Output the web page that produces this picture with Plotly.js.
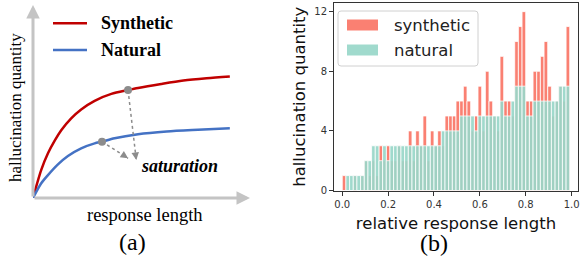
<!DOCTYPE html>
<html><head><meta charset="utf-8">
<script src="https://cdn.plot.ly/plotly-3.0.1.min.js"></script>
<style>html,body{margin:0;padding:0;background:#fff}#chart{width:582px;height:256px}</style>
</head><body><div id="chart"></div>
<script>
// ---------- panel (b) data ----------
const seriesNames = ['synthetic', 'natural'];
const relLength = [0,0.016,0.032,0.048,0.064,0.08,0.096,0.112,0.128,0.144,0.16,0.176,0.192,0.208,0.224,0.24,0.256,0.272,0.288,0.304,0.32,0.336,0.352,0.368,0.384,0.4,0.416,0.432,0.448,0.464,0.48,0.496,0.512,0.528,0.544,0.56,0.576,0.592,0.608,0.624,0.64,0.656,0.672,0.688,0.704,0.72,0.736,0.752,0.768,0.784,0.8,0.816,0.832,0.848,0.864,0.88,0.896,0.912,0.928,0.944,0.96,0.976];
const synthetic = [1,0,0,1,0,1,2,1,2,1,3,2,3,2,2,3,2,2,4,2,4,3,5,2,4,3,4,3,5,5,5,6,6,7,6,4,5,7,4,8,6,5,4,9,6,6,5,10,11,12,6,6,8,8,9,10,7,5,6,7,6,11];
const natural   = [0,1,1,1,1,1,2,2,3,3,2,3,2,3,3,3,3,3,3,3,3,3,3,3,3,3,3,4,4,4,4,4,5,5,5,5,4,5,5,5,5,5,5,6,5,5,6,7,7,7,5,5,6,6,6,6,6,6,6,7,7,7];
const yTicks = [0,4,8,12];
const xTicks = [0,0.2,0.4,0.6,0.8,1.0];
const xTickText = ['0.0','0.2','0.4','0.6','0.8','1.0'];

// ---------- panel (a) schematic data (unitless) ----------
const curveNames = ['Synthetic', 'Natural'];
const synthCurveX = [0,0.038,0.069,0.100,0.131,0.176,0.222,0.284,0.361,0.438,0.484,0.591,0.693,0.800,0.907];
const synthCurveY = [0,0.147,0.234,0.300,0.356,0.417,0.464,0.509,0.545,0.565,0.576,0.597,0.615,0.627,0.636];
const natCurveX = [0,0.038,0.069,0.115,0.161,0.222,0.284,0.318,0.376,0.484,0.616,0.760,0.907];
const natCurveY = [0,0.077,0.120,0.176,0.220,0.260,0.286,0.295,0.313,0.334,0.348,0.357,0.365];
const satPointsX = [0.438, 0.318];
const satPointsY = [0.565, 0.295];
const satArrowEndX = [0.476, 0.438];
const satArrowEndY = [0.199, 0.208];

const RED = '#FA8072', TEAL = 'rgb(152,215,201)', TEAL_OP = 0.92;
const P = (px) => px/582, Q = (py) => 1 - py/256;

const traces = [
  {type:'bar', x:relLength, y:synthetic, name:seriesNames[0], width:0.016, offset:0,
   marker:{color:RED, line:{color:'white', width:0.8}}, xaxis:'x', yaxis:'y', hoverinfo:'skip'},
  {type:'bar', x:relLength, y:natural, name:seriesNames[1], width:0.016, offset:0,
   marker:{color:TEAL, opacity:TEAL_OP, line:{color:'white', width:0.8}}, xaxis:'x', yaxis:'y', hoverinfo:'skip'},
  {type:'scatter', mode:'lines', x:synthCurveX, y:synthCurveY, name:curveNames[0], line:{color:'#C00000', width:2.5, shape:'spline', smoothing:0.8}, xaxis:'x2', yaxis:'y2', hoverinfo:'skip'},
  {type:'scatter', mode:'lines', x:natCurveX, y:natCurveY, name:curveNames[1], line:{color:'#4472C4', width:2.5, shape:'spline', smoothing:0.8}, xaxis:'x2', yaxis:'y2', hoverinfo:'skip'},
  {type:'scatter', mode:'markers', x:satPointsX, y:satPointsY, marker:{color:'#8c8c8c', size:8}, xaxis:'x2', yaxis:'y2', hoverinfo:'skip', showlegend:false}
];

const shapes = [];
const annotations = [];
// axis arrows of panel (a)
annotations.push({xref:'x2', yref:'y2', axref:'x2', ayref:'y2', x:0, y:1.01, ax:0, ay:0, text:'', showarrow:true, arrowhead:2, arrowsize:0.9, arrowwidth:3, arrowcolor:'#c4c4c4'});
annotations.push({xref:'x2', yref:'y2', axref:'x2', ayref:'y2', x:1.0, y:0, ax:0, ay:0, text:'', showarrow:true, arrowhead:2, arrowsize:0.9, arrowwidth:3, arrowcolor:'#c4c4c4'});
// saturation dotted arrows
for (let k=0;k<2;k++){
  shapes.push({type:'line', xref:'x2', yref:'y2', x0:satPointsX[k], y0:satPointsY[k], x1:satArrowEndX[k], y1:satArrowEndY[k], line:{color:'#8c8c8c', width:1.5, dash:'dot'}});
}
annotations.push({xref:'x2', yref:'y2', x:satArrowEndX[0], y:satArrowEndY[0], ax:-1, ay:-7, text:'', showarrow:true, arrowhead:2, arrowsize:1, arrowwidth:1.5, arrowcolor:'#8c8c8c'});
annotations.push({xref:'x2', yref:'y2', x:satArrowEndX[1], y:satArrowEndY[1], ax:-6, ay:-4, text:'', showarrow:true, arrowhead:2, arrowsize:1, arrowwidth:1.5, arrowcolor:'#8c8c8c'});
// panel (a) legend
shapes.push({type:'line', xref:'paper', yref:'paper', x0:P(53), x1:P(87), y0:Q(23.3), y1:Q(23.3), line:{color:'#C00000', width:2.5}});
shapes.push({type:'line', xref:'paper', yref:'paper', x0:P(53), x1:P(87), y0:Q(50), y1:Q(50), line:{color:'#4472C4', width:2.5}});
const serifB = {family:'Liberation Serif', size:18, color:'#000', weight:'bold'};
annotations.push({xref:'paper', yref:'paper', x:P(99), y:Q(23), xanchor:'left', yanchor:'middle', text:'<b>'+curveNames[0]+'</b>', showarrow:false, font:serifB});
annotations.push({xref:'paper', yref:'paper', x:P(99), y:Q(50), xanchor:'left', yanchor:'middle', text:'<b>'+curveNames[1]+'</b>', showarrow:false, font:serifB});
annotations.push({xref:'paper', yref:'paper', x:P(139), y:Q(166), xanchor:'left', yanchor:'middle', text:'<b><i>saturation</i></b>', showarrow:false, font:serifB});
annotations.push({xref:'paper', yref:'paper', x:P(15), y:Q(108), xanchor:'center', yanchor:'middle', textangle:-90, text:'hallucination quantity', showarrow:false, font:{family:'Liberation Serif', size:17, color:'#000'}});
annotations.push({xref:'paper', yref:'paper', x:P(145), y:Q(215), xanchor:'center', yanchor:'middle', text:'response length', showarrow:false, font:{family:'Liberation Serif', size:18.5, color:'#000'}});
annotations.push({xref:'paper', yref:'paper', x:P(132), y:Q(242), xanchor:'center', yanchor:'middle', text:'(a)', showarrow:false, font:{family:'Liberation Serif', size:24, color:'#000'}});
annotations.push({xref:'paper', yref:'paper', x:P(434), y:Q(243), xanchor:'center', yanchor:'middle', text:'(b)', showarrow:false, font:{family:'Liberation Serif', size:24, color:'#000'}});
// panel (b) legend
shapes.push({type:'path', xref:'paper', yref:'paper', path:
  `M ${P(341)} ${Q(11)} L ${P(475)} ${Q(11)} Q ${P(478)} ${Q(11)} ${P(478)} ${Q(14)} L ${P(478)} ${Q(63)} Q ${P(478)} ${Q(66)} ${P(475)} ${Q(66)} L ${P(341)} ${Q(66)} Q ${P(338)} ${Q(66)} ${P(338)} ${Q(63)} L ${P(338)} ${Q(14)} Q ${P(338)} ${Q(11)} ${P(341)} ${Q(11)} Z`,
  fillcolor:'rgba(255,255,255,0.8)', line:{color:'#d0d0d0', width:1}});
shapes.push({type:'rect', xref:'paper', yref:'paper', x0:P(347), x1:P(378), y0:Q(30.5), y1:Q(19.5), fillcolor:RED, line:{width:0}});
shapes.push({type:'rect', xref:'paper', yref:'paper', x0:P(347), x1:P(378), y0:Q(55.5), y1:Q(44.5), fillcolor:TEAL, opacity:TEAL_OP, line:{width:0}});
const legFont = {family:'DejaVu Sans', size:16.5, color:'#222'};
annotations.push({xref:'paper', yref:'paper', x:P(392), y:Q(25), xanchor:'left', yanchor:'middle', text:seriesNames[0], showarrow:false, font:legFont});
annotations.push({xref:'paper', yref:'paper', x:P(392), y:Q(50), xanchor:'left', yanchor:'middle', text:seriesNames[1], showarrow:false, font:legFont});

const tickFont = {family:'DejaVu Sans', size:10, color:'#333'};
const layout = {
  width:582, height:256, margin:{l:0, r:0, t:0, b:0},
  paper_bgcolor:'#fff', plot_bgcolor:'rgba(0,0,0,0)',
  showlegend:false, barmode:'overlay', bargap:0,
  xaxis:{domain:[P(334), P(578)], range:[-0.036, 1.028], anchor:'y', tickvals:xTicks, ticktext:xTickText,
    ticks:'outside', ticklen:4, tickwidth:1, tickcolor:'#333', showline:true, mirror:true, linecolor:'#333', linewidth:1,
    showgrid:false, zeroline:false, tickfont:tickFont, automargin:false,
    title:{text:'relative response length', font:{family:'DejaVu Sans', size:16.5, color:'#111'}, standoff:8}},
  yaxis:{domain:[Q(190.5), Q(3)], range:[0, 12.58], anchor:'x', tickvals:yTicks,
    ticks:'outside', ticklen:4, tickwidth:1, tickcolor:'#333', showline:true, mirror:true, linecolor:'#333', linewidth:1,
    showgrid:false, zeroline:false, tickfont:tickFont, automargin:false,
    title:{text:'hallucination quantity', font:{family:'DejaVu Sans', size:16.5, color:'#111'}, standoff:4}},
  xaxis2:{domain:[P(33), P(250)], range:[0,1], anchor:'y2', visible:false},
  yaxis2:{domain:[Q(198), Q(7)], range:[0,1], anchor:'x2', visible:false},
  shapes:shapes, annotations:annotations
};
Plotly.newPlot('chart', traces, layout, {staticPlot:true, displayModeBar:false});
</script></body></html>
